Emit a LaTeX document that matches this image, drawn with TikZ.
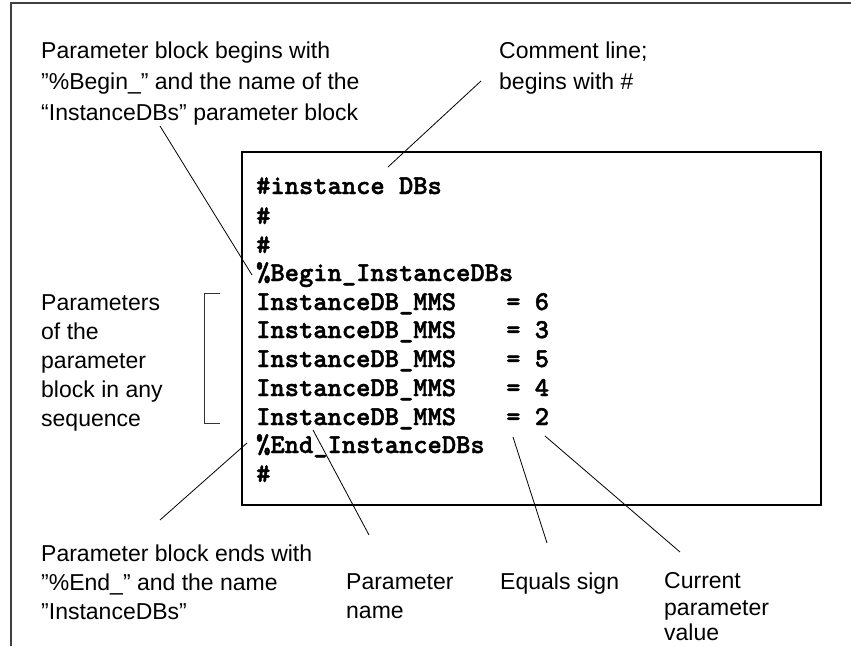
\documentclass[tikz,border=0pt]{standalone}
\usepackage{fontspec}
\setmainfont{Liberation Sans}
\newfontfamily\codefont{lmmonolt10-bold.otf}[FakeBold=1.6]
\begin{document}
\begin{tikzpicture}[x=1pt,y=-1pt,
  lab/.style={anchor=base west, inner sep=0pt, font=\fontsize{23}{29}\selectfont},
  code/.style={anchor=base west, inner sep=0pt, font=\codefont\fontsize{27.2}{28.8}\selectfont},
  conn/.style={line width=0.8pt, black},
  frameline/.style={line width=2pt, black!75},
  codebox/.style={line width=2.4pt, black}]
\useasboundingbox (0,0) rectangle (851,646);
% outer frame (top and left only)
\draw[frameline] (11,646) -- (11,3) -- (851,3);
% code box
\draw[codebox] (242,152) rectangle (821,505);
% code lines
\node[code] (c1) at (256,194) {\#instance DBs};
\node[code] (c2) at (256,224) {\#};
\node[code] (c3) at (256,253) {\#};
\node[code] (c4) at (256,281) {\%Begin\_InstanceDBs};
\foreach \n/\y/\v in {5/310/6, 6/338/3, 7/367/5, 8/396/4, 9/425/2}{
  \node[code] (c\n) at (256,\y) {InstanceDB\_MMS};
  \node[code] (e\n) at (506,\y) {= \v};
}
\node[code] (c10) at (256,453) {\%End\_InstanceDBs};
\node[code] (c11) at (256,482) {\#};
% top labels
\node[lab] (t1) at (41,58) {Parameter block begins with};
\node[lab] (t2) at (41,89) {”\%Begin\_” and the name of the};
\node[lab] (t3) at (41,120) {“InstanceDBs” parameter block};
\node[lab] (m1) at (499,58) {Comment line;};
\node[lab] (m2) at (499,89) {begins with \#};
% left labels
\node[lab] (l1) at (41,310) {Parameters};
\node[lab] (l2) at (41,339) {of the};
\node[lab] (l3) at (41,368) {parameter};
\node[lab] (l4) at (41,397) {block in any};
\node[lab] (l5) at (41,426) {sequence};
% bracket
\draw[line width=0.9pt, black!80] (220,293) -- (204,293) -- (204,423) -- (220,423);
% bottom labels
\node[lab] (b1) at (41,561) {Parameter block ends with};
\node[lab] (b2) at (41,590) {”\%End\_” and the name};
\node[lab] (b3) at (41,619) {”InstanceDBs”};
\node[lab] (p1) at (346,589) {Parameter};
\node[lab] (p2) at (346,618) {name};
\node[lab] (q1) at (500,589) {Equals sign};
\node[lab] (v1) at (664,588) {Current};
\node[lab] (v2) at (664,615) {parameter};
\node[lab] (v3) at (664,640) {value};
% connector end points
\coordinate (a1) at (160,126);
\coordinate (a2) at (252,275);
\coordinate (k1) at (481,81);
\coordinate (k2) at (388,167);
\coordinate (d1) at (160,520);
\coordinate (d2) at (247,443);
\coordinate (n1) at (313,430);
\coordinate (n2) at (369,535);
\coordinate (s1) at (513,437);
\coordinate (s2) at (547,543);
\coordinate (w1) at (545,436);
\coordinate (w2) at (680,552);
\draw[conn] (a1) -- (a2);
\draw[conn] (k1) -- (k2);
\draw[conn] (d1) -- (d2);
\draw[conn] (n1) -- (n2);
\draw[conn] (s1) -- (s2);
\draw[conn] (w1) -- (w2);
\end{tikzpicture}
\end{document}
